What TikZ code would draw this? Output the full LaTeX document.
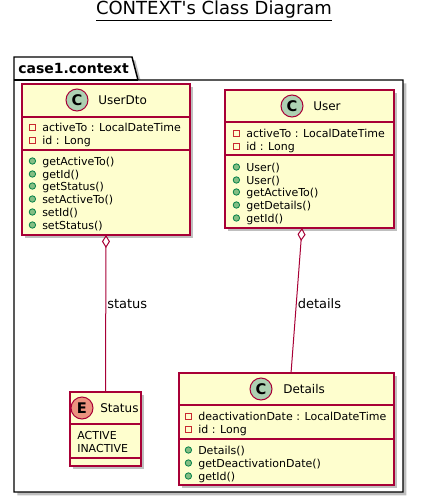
\documentclass[tikz,border=0pt]{standalone}
\usepackage{fontspec}
\setmainfont{DejaVu Sans}[Ligatures=TeXOff]
\usetikzlibrary{arrows.meta,shadows,positioning,calc}
\definecolor{umlred}{HTML}{A80036}
\definecolor{umlyellow}{HTML}{FEFECE}
\definecolor{umlgreen}{HTML}{ADD1B2}
\definecolor{umlsalmon}{HTML}{EB937F}
\definecolor{privred}{HTML}{C82930}
\definecolor{pubfill}{HTML}{84BE84}
\definecolor{publine}{HTML}{038048}
\tikzset{
%Define the shadow under boxes
umlshadow/.style={drop shadow={shadow xshift=2.5pt, shadow yshift=-2.5pt, fill=black, opacity=0.25}},
%Define styles for package and classes
package box/.style={draw=black, line width=1.1pt, fill=white, umlshadow},
class box/.style={rectangle, draw=umlred, line width=1.1pt, fill=umlyellow, inner sep=0pt, outer sep=0pt, anchor=north west, umlshadow},
compartment/.style={umlred, line width=0.8pt},
class icon/.style={circle, draw=umlred, line width=0.75pt, fill=umlgreen, minimum size=16.5pt, inner sep=0pt, font=\fontsize{11}{11}\selectfont\bfseries},
enum icon/.style={class icon, fill=umlsalmon},
class name/.style={anchor=west, inner sep=0pt, font=\fontsize{9}{9}\selectfont},
%Define styles for members, the icon is a label
member/.style={anchor=west, inner sep=0pt, text height=1.5ex, text depth=.25ex, font=\fontsize{8.25}{8.25}\selectfont},
private/.style={member, label={[xshift=-4.5pt, rectangle, draw=privred, line width=0.75pt, minimum size=4.5pt, inner sep=0pt]left:{}}},
public/.style={member, label={[xshift=-4.5pt, circle, draw=publine, fill=pubfill, line width=0.6pt, minimum size=4.8pt, inner sep=0pt]left:{}}},
%Define style for connections
assoc/.style={draw=umlred, line width=0.75pt, {Diamond[open, length=9.75pt, width=6pt]}-},
edge label/.style={anchor=west, inner sep=0.75pt, font=\fontsize{9.75}{9.75}\selectfont},
}

\begin{document}
\begin{tikzpicture}[x=0.75pt, y=-0.75pt]
    %Fix the size of the picture
    \useasboundingbox (0,0) rectangle (423,504);
    %Title
    \node[font=\fontsize{13.5}{13.5}\selectfont] (title) at (214,11) {\underline{CONTEXT's Class Diagram}};
    %Draw package
    \draw[package box] (14,57) -- (132,57) -- (138,80) -- (403,80) -- (403,492) -- (14,492) -- cycle;
    \draw[line width=1.1pt] (14,80) -- (138,80);
    \node[anchor=west, inner sep=0pt, font=\fontsize{10.5}{10.5}\selectfont\bfseries] (pkgname) at (18,68) {case1.context};

    %%UserDto
    \node[class box, minimum width=126pt, minimum height=113.25pt] (userdto) at (22,84) {};
    \draw[compartment] (22,117) -- (190,117);
    \draw[compartment] (22,150) -- (190,150);
    \node[class icon] (userdtoicon) at (77,100) {C};
    \node[class name] (userdtoname) at (98,100) {UserDto};
    \node[private] (userdtoa1) at (42,127) {activeTo : LocalDateTime};
    \node[private] (userdtoa2) at (42,140) {id : Long};
    \node[public] (userdtom1) at (42,161) {getActiveTo()};
    \node[public] (userdtom2) at (42,174) {getId()};
    \node[public] (userdtom3) at (42,186) {getStatus()};
    \node[public] (userdtom4) at (42,199) {setActiveTo()};
    \node[public] (userdtom5) at (42,212) {setId()};
    \node[public] (userdtom6) at (42,225) {setStatus()};

    %%User
    \node[class box, minimum width=126.75pt, minimum height=103.5pt] (user) at (225,90) {};
    \draw[compartment] (225,122) -- (394,122);
    \draw[compartment] (225,155) -- (394,155);
    \node[class icon] (usericon) at (292,106) {C};
    \node[class name] (username) at (313,106) {User};
    \node[private] (usera1) at (246,133) {activeTo : LocalDateTime};
    \node[private] (usera2) at (246,146) {id : Long};
    \node[public] (userm1) at (246,167) {User()};
    \node[public] (userm2) at (246,180) {User()};
    \node[public] (userm3) at (246,192) {getActiveTo()};
    \node[public] (userm4) at (246,205) {getDetails()};
    \node[public] (userm5) at (246,218) {getId()};

    %%Status
    \node[class box, minimum width=53.25pt, minimum height=55.5pt] (status) at (70,392) {};
    \draw[compartment] (70,424) -- (141,424);
    \draw[compartment] (70,458) -- (141,458);
    \node[enum icon] (statusicon) at (82,408) {E};
    \node[class name] (statusname) at (100,408) {Status};
    \node[member] (statusv1) at (77,435) {ACTIVE};
    \node[member] (statusv2) at (77,448) {INACTIVE};

    %%Details
    \node[class box, minimum width=161.25pt, minimum height=84pt] (details) at (179,373) {};
    \draw[compartment] (179,405) -- (394,405);
    \draw[compartment] (179,439) -- (394,439);
    \node[class icon] (detailsicon) at (261,389) {C};
    \node[class name] (detailsname) at (283,389) {Details};
    \node[private] (detailsa1) at (198,416) {deactivationDate : LocalDateTime};
    \node[private] (detailsa2) at (198,429) {id : Long};
    \node[public] (detailsm1) at (198,450) {Details()};
    \node[public] (detailsm2) at (198,463) {getDeactivationDate()};
    \node[public] (detailsm3) at (198,476) {getId()};

    %Aggregations
    \draw[assoc] (userdto.south) -- node[edge label, pos=0.44] (statuslabel) {status} (status.north);
    \draw[assoc] ([xshift=-5.6pt]user.south) -- node[edge label, pos=0.52] (detailslabel) {details} ([xshift=3.4pt]details.north);
\end{tikzpicture}
\end{document}
